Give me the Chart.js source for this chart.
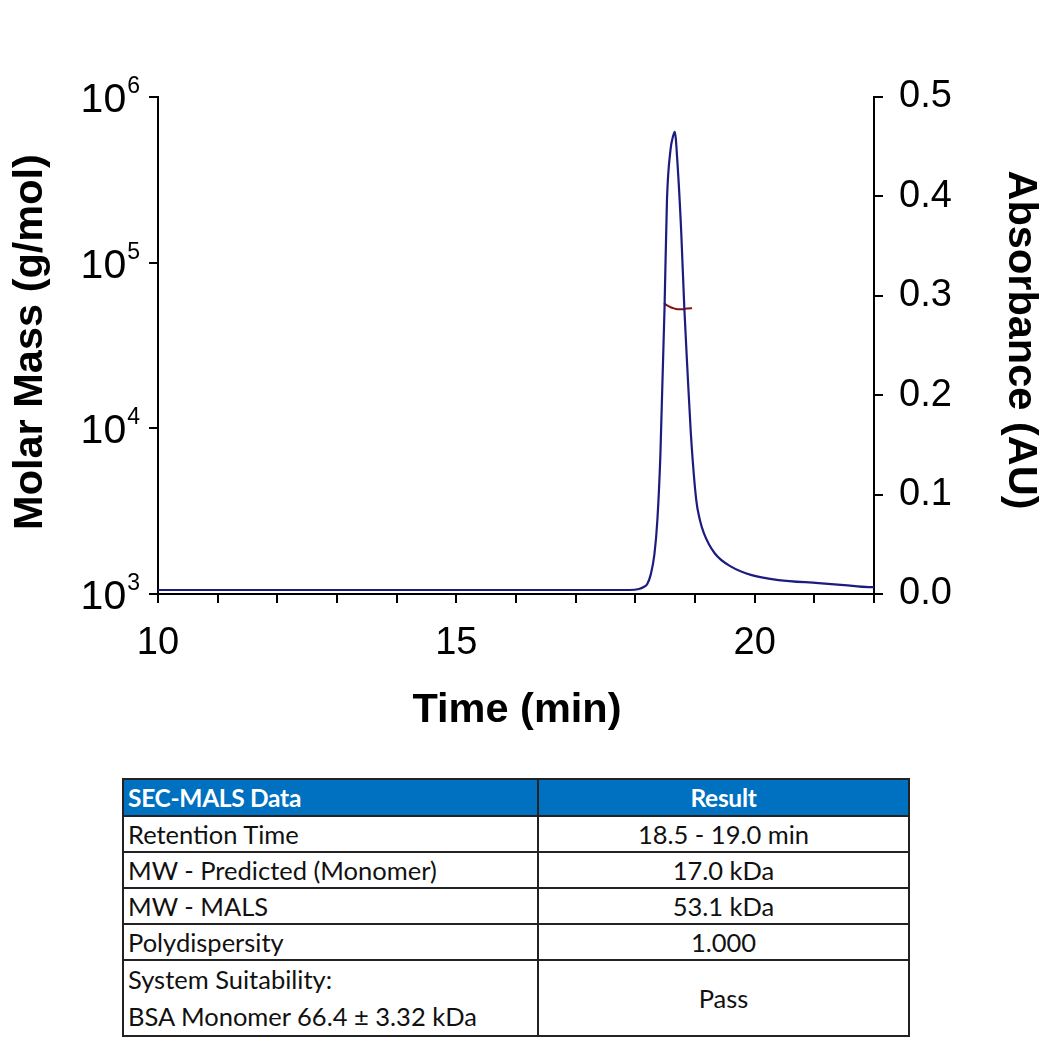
<!DOCTYPE html>
<html>
<head>
<meta charset="utf-8">
<script src="https://cdn.jsdelivr.net/npm/chart.js@4.4.1/dist/chart.umd.min.js"></script>
<style>
  body { margin: 0; background: #fff; }
  #wrap { position: relative; width: 1047px; height: 1044px; }
  #chartBox { position: absolute; left: 0; top: 0; width: 1047px; height: 750px; }
  table.res {
    position: absolute; left: 122px; top: 778px; width: 788px;
    border-collapse: collapse; font-family: Lato, 'Open Sans', sans-serif; font-size: 25.5px; color: #111;
  }
  table.res td, table.res th { border: 2px solid #222; padding: 0 4px; height: 34px; line-height: 1.2; }
  table.res th { background: #0070C0; color: #fff; font-weight: bold; font-size: 24.5px; letter-spacing: -0.3px; height: 35px; }
  table.res th:first-child, table.res td:first-child { text-align: left; width: 405px; }
  table.res th:last-child, table.res td:last-child { text-align: center; }
  table.res td.two { height: 70px; line-height: 37px; }
</style>
</head>
<body>
<div id="wrap">
  <div id="chartBox"><canvas id="chart" width="1047" height="750"></canvas></div>
  <table class="res">
    <tr><th>SEC-MALS Data</th><th>Result</th></tr>
    <tr><td>Retention Time</td><td>18.5 - 19.0 min</td></tr>
    <tr><td>MW - Predicted (Monomer)</td><td>17.0 kDa</td></tr>
    <tr><td>MW - MALS</td><td>53.1 kDa</td></tr>
    <tr><td>Polydispersity</td><td>1.000</td></tr>
    <tr><td class="two">System Suitability:<br>BSA Monomer 66.4 ± 3.32 kDa</td><td>Pass</td></tr>
  </table>
</div>
<script>
// UV absorbance trace (AU) vs time (min)
const absTime = [10, 12, 14, 16, 17, 17.9, 18.06, 18.14, 18.20, 18.26, 18.32, 18.37, 18.42, 18.49, 18.53, 18.59, 18.63, 18.66,
                 18.71, 18.77, 18.82, 18.87, 18.93, 19.02, 19.08, 19.15, 19.33, 19.62, 19.95, 20.40, 21.07, 21.50, 21.91, 22];
const absValues = [0.004, 0.004, 0.004, 0.004, 0.004, 0.004, 0.005, 0.007, 0.010, 0.020, 0.040, 0.075, 0.140, 0.289, 0.396, 0.447, 0.460, 0.465,
                   0.430, 0.363, 0.289, 0.229, 0.162, 0.095, 0.075, 0.061, 0.041, 0.027, 0.019, 0.014, 0.011, 0.009, 0.007, 0.007];

// MALS molar mass (g/mol) across the peak
const massTime = [18.48, 18.54, 18.60, 18.66, 18.73, 18.80, 18.86, 18.95];
const massValues = [56900, 55000, 53600, 52800, 52300, 52400, 52800, 53100];

const xTicks = [10, 15, 20];
const massExponents = [3, 4, 5, 6];
const absTicks = [0, 0.1, 0.2, 0.3, 0.4, 0.5];

const FONT = "'Liberation Sans', Arial, sans-serif";
const LEFT = 158, RIGHT = 874, TOP = 97, BOTTOM = 594, H = 750, W = 1047;

const labelPlugin = {
  id: 'labels',
  afterDraw(chart) {
    const ctx = chart.ctx;
    const y = chart.scales.yMass;
    ctx.save();
    ctx.fillStyle = '#000';
    // superscript decade labels on the log axis
    massExponents.forEach(e => {
      const py = y.getPixelForValue(Math.pow(10, e));
      ctx.font = '23px ' + FONT;
      const ew = ctx.measureText(String(e)).width;
      const right = 140;
      ctx.textAlign = 'left';
      ctx.textBaseline = 'alphabetic';
      ctx.fillText(String(e), right - ew, py - 4);
      ctx.font = '41px ' + FONT;
      ctx.textAlign = 'right';
      ctx.fillText('10', right - ew - 1, py + 15);
    });
    // axis titles
    ctx.font = 'bold 41.5px ' + FONT;
    ctx.textAlign = 'center';
    ctx.textBaseline = 'middle';
    ctx.fillText('Time (min)', 517, 711);
    ctx.save();
    ctx.translate(31, 342);
    ctx.rotate(-Math.PI / 2);
    ctx.fillText('Molar Mass (g/mol)', 0, 0);
    ctx.restore();
    ctx.save();
    ctx.translate(1020, 340);
    ctx.rotate(Math.PI / 2);
    ctx.fillText('Absorbance (AU)', 0, 0);
    ctx.restore();
    ctx.restore();
  }
};

new Chart(document.getElementById('chart'), {
  type: 'line',
  data: {
    datasets: [
      {
        label: 'Absorbance',
        data: absTime.map((t, i) => ({ x: t, y: absValues[i] })),
        yAxisID: 'yAbs',
        borderColor: '#1c1c80',
        borderWidth: 2.2,
        pointRadius: 0,
        cubicInterpolationMode: 'monotone'
      },
      {
        label: 'Molar Mass',
        data: massTime.map((t, i) => ({ x: t, y: massValues[i] })),
        yAxisID: 'yMass',
        borderColor: '#8b1010',
        borderWidth: 2,
        pointRadius: 0,
        cubicInterpolationMode: 'monotone'
      }
    ]
  },
  options: {
    responsive: false,
    animation: false,
    devicePixelRatio: 1,
    layout: { padding: { top: TOP, left: 0, right: 0, bottom: 0 } },
    plugins: { legend: { display: false }, tooltip: { enabled: false } },
    scales: {
      x: {
        type: 'linear', min: 10, max: 22,
        afterFit: s => { s.height = H - BOTTOM; },
        afterBuildTicks: s => { s.ticks = [10,11,12,13,14,15,16,17,18,19,20,21,22].map(v => ({ value: v })); },
        border: { color: '#000', width: 2 },
        grid: { drawOnChartArea: false, color: '#000', lineWidth: 2, tickLength: 9 },
        ticks: {
          autoSkip: false, maxRotation: 0, padding: 18, color: '#000',
          font: { family: FONT, size: 38 },
          callback: v => xTicks.includes(v) ? String(v) : ''
        }
      },
      yMass: {
        type: 'logarithmic', position: 'left', min: 1000, max: 1000000,
        afterFit: s => { s.width = LEFT; },
        afterBuildTicks: s => { s.ticks = massExponents.map(e => ({ value: Math.pow(10, e) })); },
        border: { color: '#000', width: 2 },
        grid: { drawOnChartArea: false, color: '#000', lineWidth: 2, tickLength: 9 },
        ticks: { display: false }
      },
      yAbs: {
        type: 'linear', position: 'right', min: 0, max: 0.5,
        afterFit: s => { s.width = W - RIGHT; },
        afterBuildTicks: s => { s.ticks = absTicks.map(v => ({ value: v })); },
        border: { color: '#000', width: 2 },
        grid: { drawOnChartArea: false, color: '#000', lineWidth: 2, tickLength: 9 },
        ticks: {
          padding: 16, color: '#000',
          font: { family: FONT, size: 38 },
          callback: v => v.toFixed(1)
        }
      }
    }
  },
  plugins: [labelPlugin]
});
</script>
</body>
</html>
